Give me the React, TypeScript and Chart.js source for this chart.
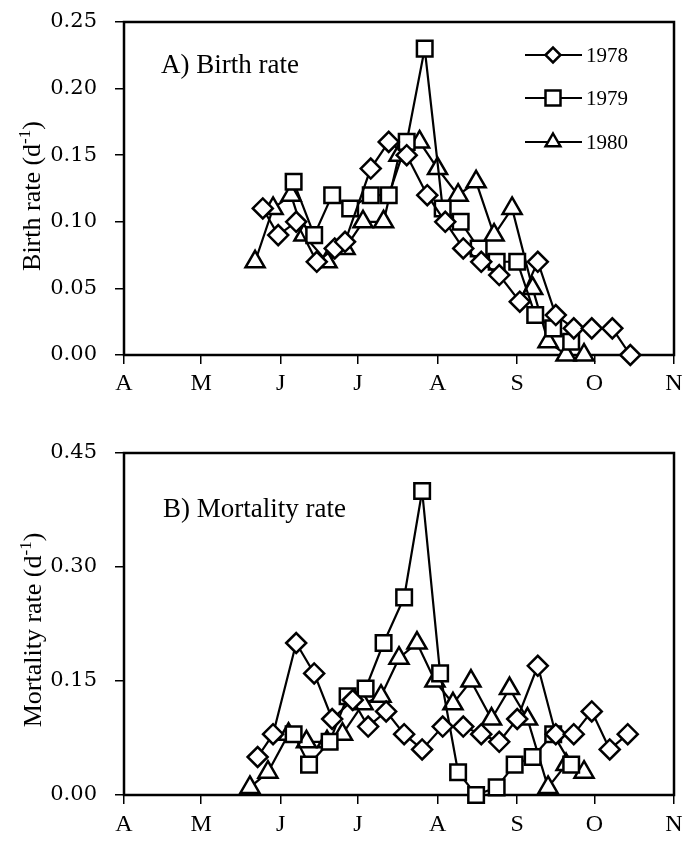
import React, { useEffect, useRef } from 'react';
import { Chart, registerables } from 'chart.js';

Chart.register(...registerables);

// ---- axis ticks ----
const monthTicks = [0, 30, 61, 91, 122, 153, 183, 214]; // days since 1 April
const monthLabels = ['A', 'M', 'J', 'J', 'A', 'S', 'O', 'N'];
const birthTicks = [0, 0.05, 0.1, 0.15, 0.2, 0.25];
const mortTicks = [0, 0.15, 0.3, 0.45];
const years = ['1978', '1979', '1980'];

// ---- A) Birth rate ----
const birthDays1978 = [54, 60, 67, 75, 82, 86, 96, 103, 110, 118, 125, 132, 139, 146, 154, 161, 168, 175, 182, 190, 197];
const birth1978 = [0.11, 0.09, 0.10, 0.07, 0.08, 0.085, 0.14, 0.16, 0.15, 0.12, 0.10, 0.08, 0.07, 0.06, 0.04, 0.07, 0.03, 0.02, 0.02, 0.02, 0.0];
const birthDays1979 = [66, 74, 81, 88, 96, 103, 110, 117, 124, 131, 138, 145, 153, 160, 167, 174];
const birth1979 = [0.13, 0.09, 0.12, 0.11, 0.12, 0.12, 0.16, 0.23, 0.11, 0.10, 0.08, 0.07, 0.07, 0.03, 0.02, 0.01];
const birthDays1980 = [51, 58, 65, 70, 79, 86, 93, 101, 107, 115, 122, 130, 137, 144, 151, 159, 165, 172, 179];
const birth1980 = [0.07, 0.11, 0.12, 0.09, 0.07, 0.08, 0.10, 0.10, 0.15, 0.16, 0.14, 0.12, 0.13, 0.09, 0.11, 0.05, 0.01, 0.0, 0.0];

// ---- B) Mortality rate ----
const mortDays1978 = [52, 58, 67, 74, 81, 89, 95, 102, 109, 116, 124, 132, 139, 146, 153, 161, 168, 175, 182, 189, 196];
const mort1978 = [0.05, 0.08, 0.20, 0.16, 0.10, 0.125, 0.09, 0.11, 0.08, 0.06, 0.09, 0.09, 0.08, 0.07, 0.10, 0.17, 0.08, 0.08, 0.11, 0.06, 0.08];
const mortDays1979 = [66, 72, 80, 87, 94, 101, 109, 116, 123, 130, 137, 145, 152, 159, 167, 174];
const mort1979 = [0.08, 0.04, 0.07, 0.13, 0.14, 0.20, 0.26, 0.40, 0.16, 0.03, 0.0, 0.01, 0.04, 0.05, 0.08, 0.04];
const mortDays1980 = [49, 56, 64, 71, 79, 85, 93, 100, 107, 114, 121, 128, 135, 143, 150, 157, 165, 172, 179];
const mort1980 = [0.01, 0.03, 0.08, 0.07, 0.07, 0.08, 0.12, 0.13, 0.18, 0.20, 0.15, 0.12, 0.15, 0.10, 0.14, 0.10, 0.01, 0.04, 0.03];

const pointStyles = ['rectRot', 'rect', 'triangle'];
const pointRadii = [10, 11, 11];

const SERIF = '"Liberation Serif", "Times New Roman", serif';

function pairs(days: number[], vals: number[]) {
  return days.map((d, i) => ({ x: d, y: vals[i] }));
}

function makeDatasets(sets: { days: number[]; vals: number[] }[]) {
  return sets.map((s, i) => ({
    label: years[i],
    data: pairs(s.days, s.vals),
    borderColor: '#000',
    borderWidth: 2.2,
    backgroundColor: '#fff',
    pointStyle: pointStyles[i],
    pointRadius: pointRadii[i],
    pointBorderWidth: 2.5,
    pointBorderColor: '#000',
    pointBackgroundColor: '#fff',
    tension: 0,
    clip: false as any,
  }));
}

function drawMarker(ctx: CanvasRenderingContext2D, style: string, x: number, y: number) {
  ctx.beginPath();
  if (style === 'rectRot') {
    const h = 7.5;
    ctx.moveTo(x - h, y); ctx.lineTo(x, y - h); ctx.lineTo(x + h, y); ctx.lineTo(x, y + h); ctx.closePath();
  } else if (style === 'rect') {
    const h = 7.5;
    ctx.rect(x - h, y - h, 2 * h, 2 * h);
  } else {
    const r = 8.5;
    ctx.moveTo(x, y - r);
    ctx.lineTo(x + r * 0.866, y + r / 2);
    ctx.lineTo(x - r * 0.866, y + r / 2);
    ctx.closePath();
  }
  ctx.fillStyle = '#fff';
  ctx.fill();
  ctx.lineWidth = 2.5;
  ctx.strokeStyle = '#000';
  ctx.stroke();
}

function drawVTitle(ctx: CanvasRenderingContext2D, x: number, cy: number, main: string, sup: string, tail: string) {
  ctx.save();
  ctx.translate(x, cy);
  ctx.rotate(-Math.PI / 2);
  ctx.fillStyle = '#000';
  ctx.textBaseline = 'alphabetic';
  ctx.textAlign = 'left';
  const f1 = '26px ' + SERIF;
  const f2 = '17px ' + SERIF;
  ctx.font = f1;
  const w1 = ctx.measureText(main).width;
  const w3 = ctx.measureText(tail).width;
  ctx.font = f2;
  const w2 = ctx.measureText(sup).width;
  let sx = -(w1 + w2 + w3) / 2;
  ctx.font = f1;
  ctx.fillText(main, sx, 0);
  sx += w1;
  ctx.font = f2;
  ctx.fillText(sup, sx, -10);
  sx += w2;
  ctx.font = f1;
  ctx.fillText(tail, sx, 0);
  ctx.restore();
}

type OverlayCfg = {
  panelLabel: string;
  labelX: number;
  labelY: number;
  titleMain: string;
  titleX: number;
  titleY: number;
  legend: boolean;
};

function makeOverlay(cfg: OverlayCfg) {
  return {
    id: 'overlay',
    beforeDatasetsDraw(chart: any) {
      const ctx = chart.ctx as CanvasRenderingContext2D;
      const a = chart.chartArea;
      ctx.save();
      ctx.lineWidth = 2.5;
      ctx.strokeStyle = '#000';
      ctx.strokeRect(a.left, a.top, a.right - a.left, a.bottom - a.top);
      ctx.restore();
    },
    afterDraw(chart: any) {
      const ctx = chart.ctx as CanvasRenderingContext2D;
      ctx.save();
      ctx.fillStyle = '#000';
      ctx.font = '27px ' + SERIF;
      ctx.textAlign = 'left';
      ctx.textBaseline = 'alphabetic';
      ctx.fillText(cfg.panelLabel, cfg.labelX, cfg.labelY);
      drawVTitle(ctx, cfg.titleX, cfg.titleY, cfg.titleMain, '-1', ')');
      if (cfg.legend) {
        const ys = [55, 98, 142];
        years.forEach((yr, i) => {
          const y = ys[i];
          ctx.beginPath();
          ctx.moveTo(525, y);
          ctx.lineTo(582, y);
          ctx.lineWidth = 2.2;
          ctx.strokeStyle = '#000';
          ctx.stroke();
          drawMarker(ctx, pointStyles[i], 553, y);
          ctx.fillStyle = '#000';
          ctx.font = '21px ' + SERIF;
          ctx.textBaseline = 'middle';
          ctx.textAlign = 'left';
          ctx.fillText(yr, 586, y + 1);
        });
      }
      ctx.restore();
    },
  };
}

function buildConfig(
  datasets: any[],
  yTicks: number[],
  xHeight: number,
  padTop: number,
  xPad: number,
  overlay: any
): any {
  return {
    type: 'line',
    data: { datasets },
    options: {
      animation: false,
      responsive: false,
      events: [],
      layout: { padding: { left: 0, right: 22, top: padTop, bottom: 0 } },
      plugins: { legend: { display: false }, tooltip: { enabled: false }, title: { display: false } },
      scales: {
        x: {
          type: 'linear',
          min: monthTicks[0],
          max: monthTicks[monthTicks.length - 1],
          afterBuildTicks: (scale: any) => {
            scale.ticks = monthTicks.map((v) => ({ value: v }));
          },
          afterFit: (scale: any) => {
            scale.height = xHeight;
          },
          grid: { drawOnChartArea: false, drawTicks: true, tickLength: 9, color: '#000', lineWidth: 1.5 },
          border: { display: false },
          ticks: {
            autoSkip: false,
            maxRotation: 0,
            minRotation: 0,
            padding: xPad,
            color: '#000',
            font: { family: SERIF, size: 24 },
            callback: (_v: any, i: number) => monthLabels[i],
          },
        },
        y: {
          type: 'linear',
          min: yTicks[0],
          max: yTicks[yTicks.length - 1],
          afterBuildTicks: (scale: any) => {
            scale.ticks = yTicks.map((v) => ({ value: v }));
          },
          afterFit: (scale: any) => {
            scale.width = 124;
            scale.paddingTop = 10;
            scale.paddingBottom = 10;
          },
          grid: { drawOnChartArea: false, drawTicks: true, tickLength: 9, color: '#000', lineWidth: 1.5 },
          border: { display: false },
          ticks: {
            padding: 18,
            color: '#000',
            font: { family: '"DejaVu Serif", serif', size: 21 },
            callback: (v: any) => Number(v).toFixed(2),
          },
        },
      },
    },
    plugins: [overlay],
  };
}

export default function App() {
  const topRef = useRef<HTMLCanvasElement | null>(null);
  const botRef = useRef<HTMLCanvasElement | null>(null);

  useEffect(() => {
    const top = new Chart(
      topRef.current as HTMLCanvasElement,
      buildConfig(
        makeDatasets([
          { days: birthDays1978, vals: birth1978 },
          { days: birthDays1979, vals: birth1979 },
          { days: birthDays1980, vals: birth1980 },
        ]),
        birthTicks,
        75,
        22,
        5,
        makeOverlay({
          panelLabel: 'A) Birth rate',
          labelX: 161,
          labelY: 73,
          titleMain: 'Birth rate (d',
          titleX: 40,
          titleY: 196,
          legend: true,
        })
      )
    );
    const bot = new Chart(
      botRef.current as HTMLCanvasElement,
      buildConfig(
        makeDatasets([
          { days: mortDays1978, vals: mort1978 },
          { days: mortDays1979, vals: mort1979 },
          { days: mortDays1980, vals: mort1980 },
        ]),
        mortTicks,
        55,
        23,
        6,
        makeOverlay({
          panelLabel: 'B) Mortality rate',
          labelX: 163,
          labelY: 87,
          titleMain: 'Mortality rate (d',
          titleX: 41,
          titleY: 200,
          legend: false,
        })
      )
    );
    return () => {
      top.destroy();
      bot.destroy();
    };
  }, []);

  return (
    <div style={{ position: 'absolute', left: 0, top: 0, width: 696, height: 850, background: '#fff' }}>
      <canvas ref={topRef} width={696} height={430} style={{ position: 'absolute', left: 0, top: 0, width: 696, height: 430 }} />
      <canvas ref={botRef} width={696} height={420} style={{ position: 'absolute', left: 0, top: 430, width: 696, height: 420 }} />
    </div>
  );
}
